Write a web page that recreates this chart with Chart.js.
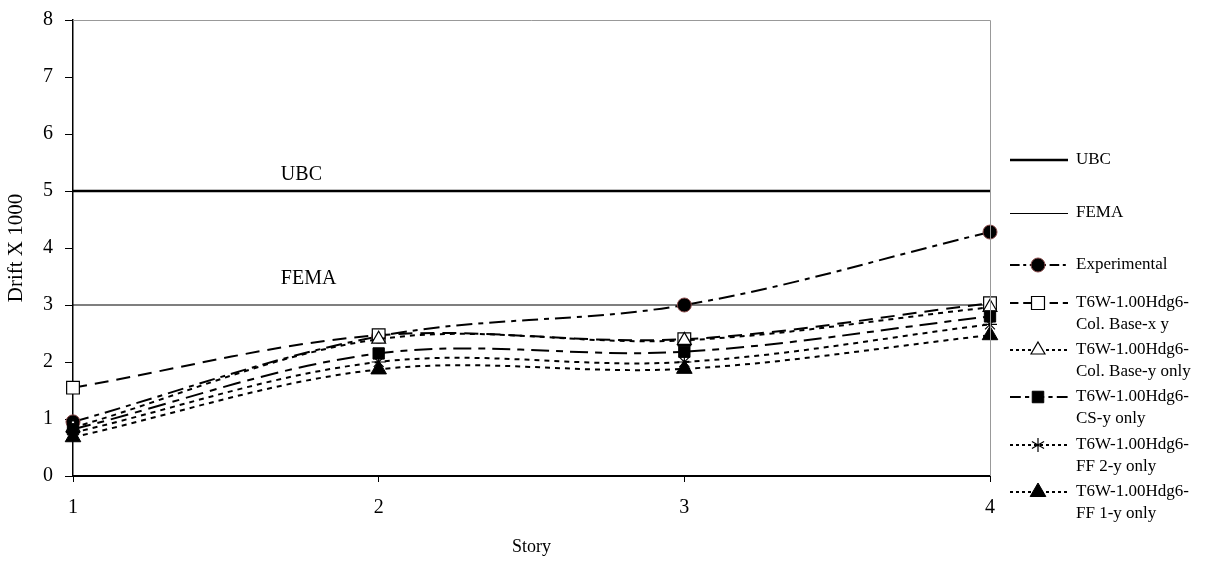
<!DOCTYPE html>
<html>
<head>
<meta charset="utf-8">
<script src="https://cdn.jsdelivr.net/npm/chart.js@4.4.0/dist/chart.umd.min.js"></script>
<style>
  body { margin: 0; background: #fff; }
  #wrap { width: 1209px; height: 562px; }
</style>
</head>
<body>
<div id="wrap"><canvas id="driftChart" width="1209" height="562"></canvas></div>
<script>
// stories on the x axis
const stories = [1, 2, 3, 4];
const yTicks = [0, 1, 2, 3, 4, 5, 6, 7, 8];

// code limits
const ubcLimit = 5;
const femaLimit = 3;

// drift x 1000 for each story
const experimental = [0.95, 2.45, 3.0, 4.28];
const colBaseXY = [1.55, 2.47, 2.40, 3.03];
const colBaseY = [0.85, 2.40, 2.38, 2.96];
const csY = [0.82, 2.15, 2.18, 2.80];
const ff2Y = [0.76, 2.00, 2.00, 2.66];
const ff1Y = [0.68, 1.87, 1.88, 2.47];

const toPoints = vals => vals.map((v, i) => ({ x: stories[i], y: v }));
const flat = v => [{ x: 1, y: v }, { x: 4, y: v }];

const FONT = "'Liberation Serif', 'Times New Roman', serif";

const datasets = [
  { label: 'UBC', data: flat(ubcLimit), borderColor: '#000', borderWidth: 2.5, pointRadius: 0, tension: 0 },
  { label: 'FEMA', data: flat(femaLimit), borderColor: '#000', borderWidth: 1.2, pointRadius: 0, tension: 0 },
  { label: 'Experimental', data: toPoints(experimental), borderColor: '#000', borderWidth: 2, borderDash: [16, 6, 5, 6],
    pointStyle: 'circle', pointRadius: 7, pointBackgroundColor: '#000', pointBorderColor: '#8a4a4a', pointBorderWidth: 1 },
  { label: ['T6W-1.00Hdg6-', 'Col. Base-x y'], data: toPoints(colBaseXY), borderColor: '#000', borderWidth: 2, borderDash: [14, 8],
    pointStyle: 'rect', pointRadius: 9, pointBackgroundColor: '#fff', pointBorderColor: '#000', pointBorderWidth: 1.2 },
  { label: ['T6W-1.00Hdg6-', 'Col. Base-y only'], data: toPoints(colBaseY), borderColor: '#000', borderWidth: 2, borderDash: [5, 5],
    pointStyle: 'triangle', pointRadius: 8, pointBackgroundColor: '#fff', pointBorderColor: '#000', pointBorderWidth: 1.2 },
  { label: ['T6W-1.00Hdg6-', 'CS-y only'], data: toPoints(csY), borderColor: '#000', borderWidth: 2, borderDash: [18, 7, 7, 7],
    pointStyle: 'rect', pointRadius: 8, pointBackgroundColor: '#000', pointBorderColor: '#000', pointBorderWidth: 1 },
  { label: ['T6W-1.00Hdg6-', 'FF 2-y only'], data: toPoints(ff2Y), borderColor: '#000', borderWidth: 2, borderDash: [5, 5],
    pointStyle: 'star', pointRadius: 7, pointBackgroundColor: '#000', pointBorderColor: '#000', pointBorderWidth: 1.2 },
  { label: ['T6W-1.00Hdg6-', 'FF 1-y only'], data: toPoints(ff1Y), borderColor: '#000', borderWidth: 2, borderDash: [5, 5],
    pointStyle: 'triangle', pointRadius: 9, pointBackgroundColor: '#000', pointBorderColor: '#000', pointBorderWidth: 1 }
];
// later series sit on top, as in the original
datasets.forEach((d, i) => {
  d.fill = false;
  d.clip = false;
  d.order = datasets.length - i;
  if (d.tension === undefined) d.tension = 0.35;
});

// legend y positions (first text line)
const legendY = [160, 213, 265, 303, 350, 397, 445, 492];

function drawMarker(ctx, style, r, x, y) {
  ctx.beginPath();
  if (style === 'circle') {
    ctx.arc(x, y, r, 0, Math.PI * 2);
    ctx.fill(); ctx.stroke();
  } else if (style === 'rect') {
    const s = r * 0.72;
    ctx.rect(x - s, y - s, 2 * s, 2 * s);
    ctx.fill(); ctx.stroke();
  } else if (style === 'triangle') {
    ctx.moveTo(x, y - r);
    ctx.lineTo(x + r * 0.87, y + r * 0.5);
    ctx.lineTo(x - r * 0.87, y + r * 0.5);
    ctx.closePath();
    ctx.fill(); ctx.stroke();
  } else if (style === 'star') {
    for (let k = 0; k < 3; k++) {
      const ang = Math.PI / 2 + k * Math.PI / 3;
      ctx.moveTo(x + Math.cos(ang) * r, y + Math.sin(ang) * r);
      ctx.lineTo(x - Math.cos(ang) * r, y - Math.sin(ang) * r);
    }
    ctx.stroke();
  }
}

const extras = {
  id: 'extras',
  afterDraw(chart) {
    const ctx = chart.ctx;
    const xs = chart.scales.x, ys = chart.scales.y;
    const a = chart.chartArea;
    ctx.save();
    // gray frame top and right
    ctx.strokeStyle = '#999';
    ctx.lineWidth = 1;
    ctx.beginPath();
    ctx.moveTo(a.left, a.top + 0.5); ctx.lineTo(a.right + 0.5, a.top + 0.5); ctx.lineTo(a.right + 0.5, a.bottom);
    ctx.stroke();
    // limit labels
    ctx.fillStyle = '#000';
    ctx.font = '20px ' + FONT;
    ctx.textAlign = 'left';
    ctx.textBaseline = 'alphabetic';
    ctx.fillText('UBC', xs.getPixelForValue(1.68), ys.getPixelForValue(ubcLimit) - 11);
    ctx.fillText('FEMA', xs.getPixelForValue(1.68), ys.getPixelForValue(femaLimit) - 21);
    // legend
    ctx.font = '17px ' + FONT;
    ctx.textBaseline = 'middle';
    chart.data.datasets.forEach((d, i) => {
      const y = legendY[i] + (d.borderWidth < 2 ? 0.5 : 0);
      ctx.strokeStyle = '#000';
      ctx.lineWidth = d.borderWidth;
      ctx.setLineDash(d.borderDash ? d.borderDash.map(v => v * 0.6) : []);
      ctx.beginPath();
      ctx.moveTo(1010, y); ctx.lineTo(1068, y);
      ctx.stroke();
      ctx.setLineDash([]);
      if (d.pointRadius) {
        ctx.fillStyle = d.pointBackgroundColor;
        ctx.strokeStyle = d.pointBorderColor;
        ctx.lineWidth = d.pointBorderWidth;
        drawMarker(ctx, d.pointStyle, d.pointRadius, 1038, y);
      }
      ctx.fillStyle = '#000';
      const lines = Array.isArray(d.label) ? d.label : [d.label];
      lines.forEach((t, k) => ctx.fillText(t, 1076, legendY[i] + k * 22));
    });
    ctx.restore();
  }
};

new Chart(document.getElementById('driftChart'), {
  type: 'line',
  data: { datasets: datasets },
  options: {
    responsive: false,
    animation: false,
    layout: { padding: { top: 20, right: 219, left: 0, bottom: 0 } },
    elements: { point: { radius: 0 } },
    plugins: { legend: { display: false }, tooltip: { enabled: false } },
    scales: {
      x: {
        type: 'linear', min: 1, max: 4,
        afterFit: s => { s.height = 86; s.paddingRight = 0; s.paddingLeft = 0; },
        afterBuildTicks: s => { s.ticks = stories.map(v => ({ value: v })); },
        grid: { drawOnChartArea: false, drawTicks: true, tickLength: 6, color: '#000' },
        border: { color: '#000', width: 2 },
        ticks: { color: '#000', font: { family: FONT, size: 20 }, padding: 14 },
        title: { display: true, text: 'Story', color: '#000', font: { family: FONT, size: 18 }, padding: { top: 8 } }
      },
      y: {
        min: 0, max: 8,
        afterFit: s => { s.width = 73; s.paddingTop = 0; s.paddingBottom = 0; },
        afterBuildTicks: s => { s.ticks = yTicks.map(v => ({ value: v })); },
        grid: { drawOnChartArea: false, drawTicks: true, tickLength: 8, color: '#000' },
        border: { color: '#000', width: 1.5 },
        ticks: { color: '#000', font: { family: FONT, size: 20 }, padding: 12 },
        title: { display: true, text: 'Drift X 1000', color: '#000', font: { family: FONT, size: 21 }, padding: { bottom: 2 } }
      }
    }
  },
  plugins: [extras]
});
</script>
</body>
</html>
